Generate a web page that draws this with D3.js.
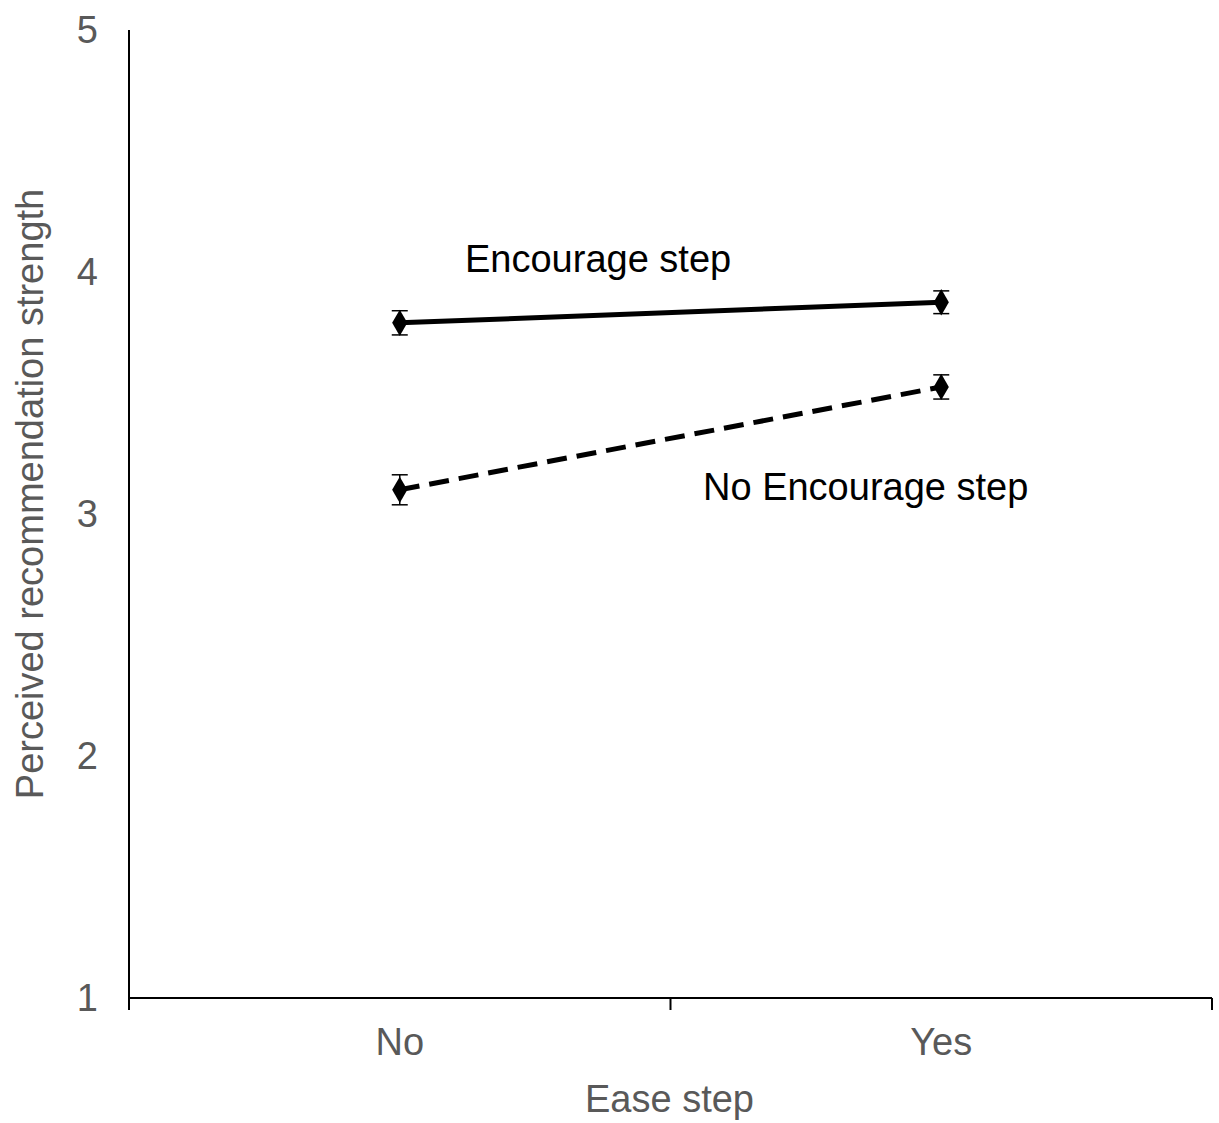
<!DOCTYPE html>
<meta charset="utf-8">
<head>
<style>
body { margin: 0; background: #fff; }
text { font-family: "Liberation Sans", Arial, sans-serif; }
</style>
<script src="https://cdnjs.cloudflare.com/ajax/libs/d3/7.8.5/d3.min.js"></script>
</head>
<body>
<div id="vis-container"></div>
<script>
// data
var categories = ['No', 'Yes']
var seriesNames = ['Encourage step', 'No Encourage step']
var encourageMeans = [3.79, 3.875]
var encourageErr = [0.05, 0.047]
var noEncourageMeans = [3.10, 3.525]
var noEncourageErr = [0.062, 0.05]
var yTicks = [1, 2, 3, 4, 5]

var W = 1219, H = 1123
var margin = {top: 30, right: 7, bottom: 125, left: 129}
var width = W - margin.left - margin.right,
    height = H - margin.top - margin.bottom

var svg = d3.select('#vis-container').append('svg')
    .attr('width', W)
    .attr('height', H)
  .append('g')
    .attr('transform', 'translate(' + margin.left + ',' + margin.top + ')')

var x = d3.scaleBand().domain(categories).range([0, width])
var y = d3.scaleLinear().domain([1, 5]).range([height, 0])

var grey = '#595959'
var fs = '38px'

// y axis: line only, labels
var yAxis = svg.append('g')
    .call(d3.axisLeft(y).tickValues(yTicks).tickSize(0).tickPadding(31).tickFormat(d3.format('d')))
yAxis.select('.domain').attr('stroke', '#000').attr('stroke-width', 2)
    .attr('d', 'M0,0V' + (height + 12))
yAxis.selectAll('text').attr('fill', grey).style('font-size', fs)

// x axis: ticks at band edges
var xAxis = svg.append('g')
    .attr('transform', 'translate(0,' + height + ')')
    .call(d3.axisBottom(x).tickSize(0).tickPadding(30))
xAxis.select('.domain').attr('stroke', '#000').attr('stroke-width', 2)
    .attr('d', 'M0,0H' + width)
xAxis.selectAll('text').attr('fill', grey).style('font-size', fs)
xAxis.selectAll('.edge')
    .data([x.bandwidth(), width])
  .enter().append('line')
    .attr('class', 'edge')
    .attr('x1', function(d) { return d }).attr('x2', function(d) { return d })
    .attr('y1', 0).attr('y2', 12)
    .attr('stroke', '#000').attr('stroke-width', 2)

// axis titles
svg.append('text')
    .attr('x', width / 2 - 1).attr('y', height + 114)
    .attr('text-anchor', 'middle')
    .attr('fill', grey).style('font-size', fs)
    .text('Ease step')
svg.append('text')
    .attr('transform', 'translate(' + (-86) + ',' + (height / 2 - 20) + ') rotate(-90)')
    .attr('text-anchor', 'middle')
    .attr('fill', grey).style('font-size', fs)
    .text('Perceived recommendation strength')

var series = [
  {name: seriesNames[0], means: encourageMeans, err: encourageErr, dash: null},
  {name: seriesNames[1], means: noEncourageMeans, err: noEncourageErr, dash: '20,10'}
]

var cx = function(c) { return x(c) + x.bandwidth() / 2 }

series.forEach(function(s) {
  var pts = categories.map(function(c, i) { return {c: c, m: s.means[i], e: s.err[i]} })
  var line = d3.line().x(function(d) { return cx(d.c) }).y(function(d) { return y(d.m) })
  svg.append('path').datum(pts)
      .attr('d', line)
      .attr('fill', 'none').attr('stroke', '#000').attr('stroke-width', 5)
      .attr('stroke-dasharray', s.dash)
  var g = svg.selectAll(null).data(pts).enter().append('g')
  g.append('line')
      .attr('x1', function(d) { return cx(d.c) }).attr('x2', function(d) { return cx(d.c) })
      .attr('y1', function(d) { return y(d.m + d.e) }).attr('y2', function(d) { return y(d.m - d.e) })
      .attr('stroke', '#000').attr('stroke-width', 1.5)
  ;[1, -1].forEach(function(sign) {
    g.append('line')
        .attr('x1', function(d) { return cx(d.c) - 8 }).attr('x2', function(d) { return cx(d.c) + 8 })
        .attr('y1', function(d) { return y(d.m + sign * d.e) }).attr('y2', function(d) { return y(d.m + sign * d.e) })
        .attr('stroke', '#000').attr('stroke-width', 1.5)
  })
  g.append('path')
      .attr('d', d3.symbol().type(d3.symbolDiamond).size(200))
      .attr('transform', function(d) { return 'translate(' + cx(d.c) + ',' + y(d.m) + ')' })
      .attr('fill', '#000')
})

// series labels
svg.append('text')
    .attr('x', 336).attr('y', 242)
    .attr('fill', '#000').style('font-size', fs)
    .text(seriesNames[0])
svg.append('text')
    .attr('x', 574).attr('y', 470)
    .attr('fill', '#000').style('font-size', fs)
    .text(seriesNames[1])
</script>
</body>
</html>
